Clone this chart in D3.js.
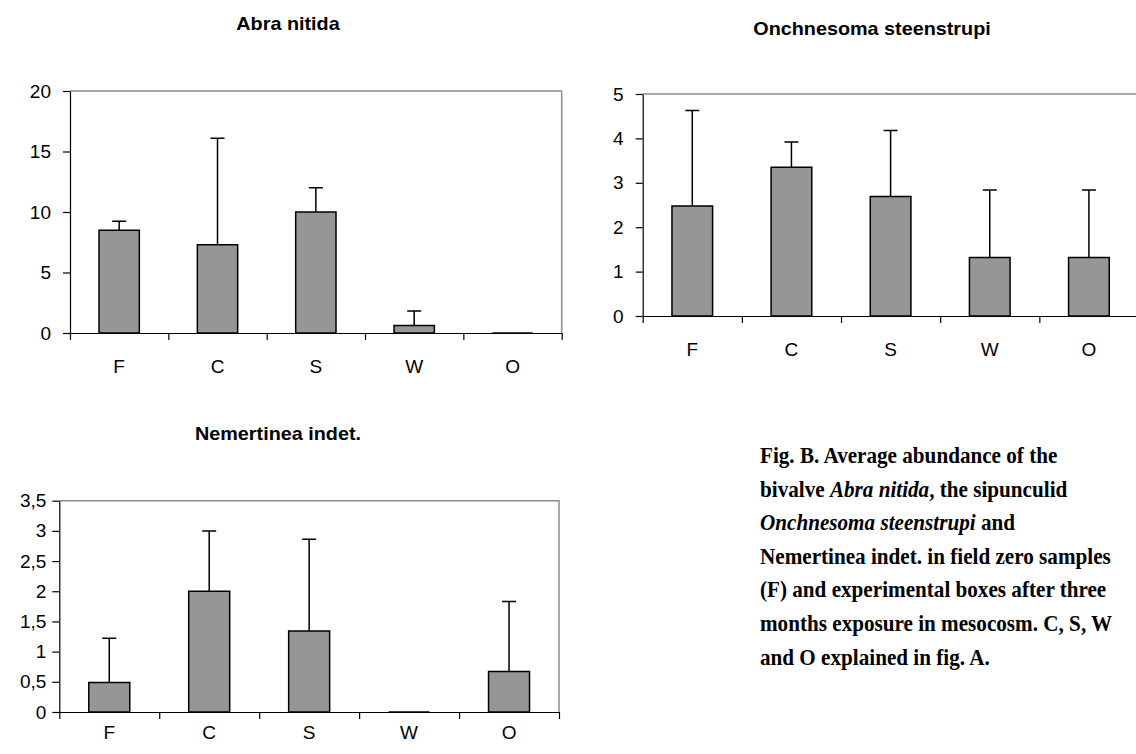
<!DOCTYPE html>
<html><head><meta charset="utf-8">
<script src="https://cdn.jsdelivr.net/npm/d3@7"></script>
<style>
html,body{margin:0;padding:0;background:#fff;}
svg{display:block;}
</style></head>
<body>
<svg id="c" width="1136" height="754"></svg>
<script>
const categories = ["F","C","S","W","O"];
const abraMean = [8.5, 7.3, 10.0, 0.62, 0];
const abraSd   = [0.74, 8.8, 2.0, 1.2, 0];
const abraTicks = [0,5,10,15,20];
const onchMean = [2.48, 3.35, 2.69, 1.32, 1.32];
const onchSd   = [2.15, 0.57, 1.49, 1.52, 1.52];
const onchTicks = [0,1,2,3,4,5];
const nemMean = [0.49, 2.0, 1.34, 0, 0.67];
const nemSd   = [0.73, 1.0, 1.52, 0, 1.16];
const nemTicks = [0,0.5,1,1.5,2,2.5,3,3.5];
const titles = ["Abra nitida","Onchnesoma steenstrupi","Nemertinea indet."];

const SANS = "Arial, 'Liberation Sans', sans-serif";
const SERIF = "'Times New Roman', 'Liberation Serif', serif";
const svg = d3.select("#c");

const panels = [
  {title:titles[0], mean:abraMean, sd:abraSd, ticks:abraTicks, L:70, R:561.7, T:91, B:333, pad:12, xpad:27, tx:288, ty:30},
  {title:titles[1], mean:onchMean, sd:onchSd, ticks:onchTicks, L:642.7, R:1138.5, T:94, B:316, pad:12, xpad:27, tx:872, ty:35},
  {title:titles[2], mean:nemMean, sd:nemSd, ticks:nemTicks, L:59.3, R:559, T:500.7, B:712, pad:6, xpad:14, tx:278, ty:440, comma:true}
];

panels.forEach(p => {
  const g = svg.append("g");
  const y = d3.scaleLinear().domain([0, p.ticks[p.ticks.length-1]]).range([p.B, p.T]);
  const x = d3.scaleBand().domain(categories).range([p.L, p.R]).paddingInner(0.59).paddingOuter(0.295);
  const xb = d3.scaleLinear().domain([0, categories.length]).range([p.L, p.R]);

  g.append("path")
    .attr("d", `M${p.L},${y(p.ticks[p.ticks.length-1])}H${p.R}V${y(0)}`)
    .attr("fill","none").attr("stroke","#8c8c8c").attr("stroke-width",1.5);

  categories.forEach((c,i) => {
    const x0 = x(c), x1 = x(c)+x.bandwidth();
    const y0 = y(0), y1 = y(p.mean[i]);
    g.append("path")
      .attr("d", `M${x0},${y0}V${y1}H${x1}V${y0}Z`)
      .attr("fill","#969696").attr("stroke","#000").attr("stroke-width",1.5);
    if (p.sd[i] > 0) {
      const cx = x0 + x.bandwidth()/2;
      const ye = y(p.mean[i] + p.sd[i]);
      g.append("path")
        .attr("d", `M${cx},${y1}V${ye}M${cx-7},${ye}H${cx+7}`)
        .attr("fill","none").attr("stroke","#000").attr("stroke-width",1.5);
    }
  });

  const fmt = p.comma ? (d => String(d).replace(".", ",")) : (d => String(d));
  const ya = g.append("g").attr("transform",`translate(${p.L},0)`)
    .call(d3.axisLeft(y).tickValues(p.ticks).tickSize(7).tickPadding(p.pad).tickSizeOuter(0).tickFormat(fmt));
  ya.select(".domain").attr("stroke","#000").attr("stroke-width",1.2);
  ya.selectAll(".tick line").attr("stroke","#000").attr("stroke-width",1.2);
  ya.selectAll(".tick text").attr("fill","#000").style("font-size","19px").style("font-family",SANS);

  const xa = g.append("g").attr("transform",`translate(0,${p.B})`)
    .call(d3.axisBottom(xb).tickValues(d3.range(0, categories.length+1)).tickSize(7).tickSizeOuter(0).tickFormat(""));
  xa.select(".domain").attr("stroke","#000").attr("stroke-width",1.2);
  xa.selectAll(".tick line").attr("stroke","#000").attr("stroke-width",1.2);

  const xl = g.append("g").attr("transform",`translate(0,${p.B})`)
    .call(d3.axisBottom(x).tickSize(0).tickPadding(p.xpad));
  xl.select(".domain").remove();
  xl.selectAll(".tick text").attr("fill","#000").style("font-size","19px").style("font-family",SANS);

  g.append("text")
    .attr("transform",`translate(${p.tx},${p.ty}) scale(1.1,1)`)
    .attr("text-anchor","middle")
    .style("font-family",SANS).style("font-weight","bold").style("font-size","18px")
    .text(p.title);
});

const captionLines = [
  [{t:"Fig. B. Average abundance of the"}],
  [{t:"bivalve "},{t:"Abra nitida",i:true},{t:", the sipunculid"}],
  [{t:"Onchnesoma steenstrupi",i:true},{t:" and"}],
  [{t:"Nemertinea indet. in field zero samples"}],
  [{t:"(F) and experimental boxes after three"}],
  [{t:"months exposure in mesocosm. C, S, W"}],
  [{t:"and O explained in fig. A."}]
];
const cap = svg.append("g").attr("transform","translate(760,0)");
captionLines.forEach((line, k) => {
  const t = cap.append("text")
    .attr("transform",`translate(0,${463 + k*33.6}) scale(0.94,1)`)
    .attr("fill","#000")
    .style("font-family",SERIF).style("font-weight","bold").style("font-size","22.5px")
    .style("white-space","pre");
  line.forEach(s => {
    t.append("tspan").style("font-style", s.i ? "italic" : "normal").text(s.t);
  });
});
</script>
</body></html>
